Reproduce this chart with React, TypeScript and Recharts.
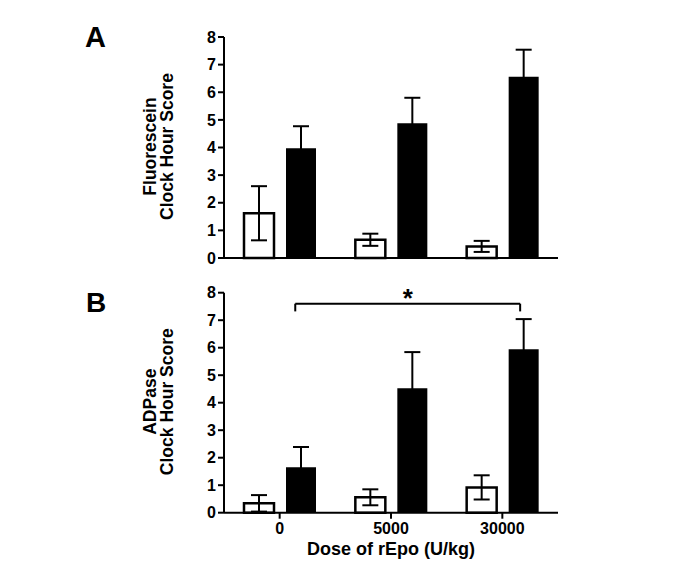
import React from "react";
import {
  Bar,
  BarChart,
  ErrorBar,
  ReferenceDot,
  ReferenceLine,
  XAxis,
  YAxis,
} from "recharts";

const FONT = '"Liberation Sans", Arial, sans-serif';

const doses = ["0", "5000", "30000"];
const yTicks = [0, 1, 2, 3, 4, 5, 6, 7, 8];

// panel A: fluorescein
const fluorOpen = [1.62, 0.66, 0.42];
const fluorOpenErr = [0.98, 0.22, 0.2];
const fluorFilled = [3.97, 4.88, 6.56];
const fluorFilledErr = [0.8, 0.92, 0.98];

// panel B: ADPase
const adpOpen = [0.34, 0.56, 0.92];
const adpOpenErr = [0.3, 0.29, 0.44];
const adpFilled = [1.65, 4.53, 5.94];
const adpFilledErr = [0.74, 1.31, 1.1];

// significance bracket in panel B (x in group units)
const sigX = [0.64, 2.66];
const sigY = 7.6;
const sigDrop = 0.28;
const sigMark = "*";

const buildRows = (open: number[], openErr: number[], filled: number[], filledErr: number[]) =>
  doses.map((dose, i) => ({
    dose,
    pos: i + 0.5,
    open: open[i],
    openErr: openErr[i],
    filled: filled[i],
    filledErr: filledErr[i],
  }));

const dataA = buildRows(fluorOpen, fluorOpenErr, fluorFilled, fluorFilledErr);
const dataB = buildRows(adpOpen, adpOpenErr, adpFilled, adpFilledErr);

const axisLine = { stroke: "#000", strokeWidth: 2 };
const tickStyle = { fill: "#000", fontSize: 16, fontWeight: "bold", fontFamily: FONT };

const yTitle = (first: string) => (props: any) => {
  const { x, y, height } = props.viewBox;
  const bx = x - 8;
  const cy = y + height / 2 - 1;
  return (
    <text
      transform={`rotate(-90, ${bx}, ${cy})`}
      x={bx}
      y={cy}
      textAnchor="middle"
      fontFamily={FONT}
      fontWeight="bold"
      fontSize={17.5}
      fill="#000"
    >
      <tspan x={bx} dy={0}>{first}</tspan>
      <tspan x={bx} dy={17}>Clock Hour Score</tspan>
    </text>
  );
};

const renderBars = () => [
  <Bar key="open" dataKey="open" fill="#fff" stroke="#000" strokeWidth={2.5} isAnimationActive={false}>
    <ErrorBar dataKey="openErr" width={8} stroke="#000" strokeWidth={2} direction="y" isAnimationActive={false} />
  </Bar>,
  <Bar key="filled" dataKey="filled" fill="#000" isAnimationActive={false}>
    <ErrorBar dataKey="filledErr" width={8} stroke="#000" strokeWidth={2} direction="y" isAnimationActive={false} />
  </Bar>,
];

const App = () => {
  return (
    <div
      style={{
        position: "absolute",
        left: 0,
        top: 0,
        width: 675,
        height: 570,
        background: "#fff",
        fontFamily: FONT,
      }}
    >
      <div style={{ position: "absolute", left: 0, top: 0 }}>
        <BarChart
          width={675}
          height={270}
          data={dataA}
          margin={{ top: 37, right: 117, bottom: 10, left: 164 }}
          barSize={30}
          barGap={12}
        >
          <XAxis dataKey="dose" tick={false} tickLine={false} axisLine={axisLine} height={2} />
          <YAxis
            width={60}
            domain={[0, 8]}
            ticks={yTicks}
            interval={0}
            tickSize={6}
            tickMargin={2}
            axisLine={axisLine}
            tickLine={axisLine}
            tick={tickStyle}
            label={{ content: yTitle("Fluorescein") }}
          />
          {renderBars()}
        </BarChart>
      </div>

      <div style={{ position: "absolute", left: 0, top: 270 }}>
        <BarChart
          width={675}
          height={300}
          data={dataB}
          margin={{ top: 22.7, right: 117, bottom: 12.3, left: 164 }}
          barSize={30}
          barGap={12}
        >
          <XAxis
            dataKey="dose"
            interval={0}
            tickSize={6}
            tickMargin={4}
            axisLine={axisLine}
            tickLine={axisLine}
            tick={tickStyle}
            height={45}
            label={{
              value: "Dose of rEpo (U/kg)",
              position: "insideBottom",
              offset: 3,
              fill: "#000",
              fontSize: 18,
              fontWeight: "bold",
              fontFamily: FONT,
            }}
          />
          <XAxis xAxisId="n" dataKey="pos" type="number" domain={[0, 3]} allowDataOverflow hide />
          <YAxis
            width={60}
            domain={[0, 8]}
            ticks={yTicks}
            interval={0}
            tickSize={6}
            tickMargin={2}
            axisLine={axisLine}
            tickLine={axisLine}
            tick={tickStyle}
            label={{ content: yTitle("ADPase") }}
          />
          {renderBars()}
          <ReferenceLine
            xAxisId="n"
            segment={[{ x: sigX[0], y: sigY }, { x: sigX[1], y: sigY }]}
            stroke="#000"
            strokeWidth={2}
          />
          <ReferenceLine
            xAxisId="n"
            segment={[{ x: sigX[0], y: sigY }, { x: sigX[0], y: sigY - sigDrop }]}
            stroke="#000"
            strokeWidth={2}
          />
          <ReferenceLine
            xAxisId="n"
            segment={[{ x: sigX[1], y: sigY }, { x: sigX[1], y: sigY - sigDrop }]}
            stroke="#000"
            strokeWidth={2}
          />
          <ReferenceDot
            xAxisId="n"
            x={(sigX[0] + sigX[1]) / 2}
            y={sigY}
            r={0}
            ifOverflow="visible"
            shape={(p: any) => (
              <text
                x={p.cx}
                y={p.cy + 3}
                textAnchor="middle"
                fontFamily={FONT}
                fontWeight="bold"
                fontSize={26}
                fill="#000"
              >
                {sigMark}
              </text>
            )}
          />
        </BarChart>
      </div>

      <svg width={675} height={570} style={{ position: "absolute", left: 0, top: 0, pointerEvents: "none" }}>
        <text x={85} y={47} fontFamily={FONT} fontWeight="bold" fontSize={29} fill="#000">A</text>
        <text x={86} y={312} fontFamily={FONT} fontWeight="bold" fontSize={28} fill="#000">B</text>
      </svg>
    </div>
  );
};

export default App;
